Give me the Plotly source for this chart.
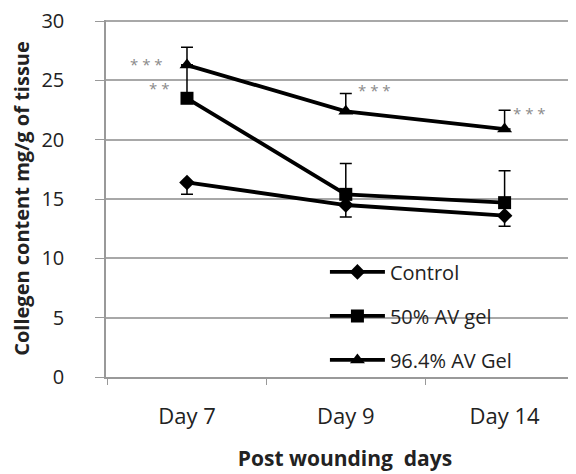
import plotly.graph_objects as go

# ─── Data ────────────────────────────────────────────────────────────────────
days = ["Day 7", "Day 9", "Day 14"]

control = [16.4, 14.5, 13.6]
control_err = [1.0, 1.0, 0.9]          # drawn downward only

av50 = [23.5, 15.4, 14.7]
av50_err = [2.8, 2.6, 2.7]             # drawn upward only

av964 = [26.3, 22.4, 20.9]
av964_err = [1.5, 1.5, 1.6]            # drawn upward only

# significance marks (category, value, text)
sig_days = ["Day 7", "Day 7", "Day 9", "Day 14"]
sig_vals = [26.4, 24.4, 24.2, 22.3]
sig_text = ["* * *", "* *", "* * *", "* * *"]
sig_shift = [-40, -28, 29, 25]

FONT = "'Open Sans', sans-serif"
GRID = "#a8a8a8"

fig = go.Figure()

fig.add_trace(go.Scatter(
    x=days, y=control, name="Control", legendgroup="a",
    mode="lines+markers",
    line=dict(color="black", width=3.8),
    marker=dict(symbol="diamond", size=12, color="black"),
    error_y=dict(type="data", symmetric=False, array=[0, 0, 0],
                 arrayminus=control_err, color="black", thickness=1.5, width=6),
))
fig.add_trace(go.Scatter(
    x=days, y=av50, name="50% AV gel", legendgroup="b",
    mode="lines+markers",
    line=dict(color="black", width=3.8),
    marker=dict(symbol="square", size=13, color="black"),
    error_y=dict(type="data", symmetric=False, array=av50_err,
                 arrayminus=[0, 0, 0], color="black", thickness=1.5, width=6),
))
fig.add_trace(go.Scatter(
    x=days, y=av964, name="96.4% AV Gel", legendgroup="c",
    mode="lines+markers",
    line=dict(color="black", width=3.8),
    marker=dict(symbol="triangle-up", size=13, color="black"),
    error_y=dict(type="data", symmetric=False, array=av964_err,
                 arrayminus=[0, 0, 0], color="black", thickness=1.5, width=6),
))

for d, v, t, s in zip(sig_days, sig_vals, sig_text, sig_shift):
    fig.add_annotation(x=d, y=v, text=t, showarrow=False, xshift=s,
                       font=dict(family=FONT, size=15, color="#8a8a8a"))

# page body has an 8px margin, so the figure is offset by 8px
fig.update_layout(
    template="none",
    width=576, height=474,
    paper_bgcolor="white", plot_bgcolor="white",
    margin=dict(l=98, r=0, t=12, b=105, autoexpand=False),
    font=dict(family=FONT, color="#222"),
    showlegend=True,
    legend=dict(x=0.458, y=0.349, xanchor="left", yanchor="top",
                bgcolor="rgba(0,0,0,0)", tracegroupgap=15, itemwidth=55,
                font=dict(family=FONT, size=20, color="#222")),
)

fig.update_xaxes(
    type="category", range=[-0.51, 2.5], automargin=False,
    tickson="boundaries", ticks="outside", ticklen=6, tickcolor="#999",
    ticklabelstandoff=19,
    showline=True, linecolor="#999", linewidth=1.5, showgrid=False,
    zeroline=False,
    tickfont=dict(size=22, color="#222"),
    title=dict(text="<b>Post wounding  days</b>", standoff=22,
               font=dict(size=21, color="#222")),
)
fig.update_yaxes(
    range=[0, 30.1], dtick=5, automargin=False, ticklabeloverflow="allow",
    ticks="outside", ticklen=9, tickcolor="#999", ticklabelstandoff=27,
    showline=True, linecolor="#999", linewidth=1.5,
    showgrid=True, gridcolor=GRID, gridwidth=1.5, zeroline=False,
    tickfont=dict(size=20, color="#222"),
    title=dict(text="<b>Collegen content mg/g of tissue</b>", standoff=8,
               font=dict(size=20, color="#222")),
)

fig.write_html("out.html")
